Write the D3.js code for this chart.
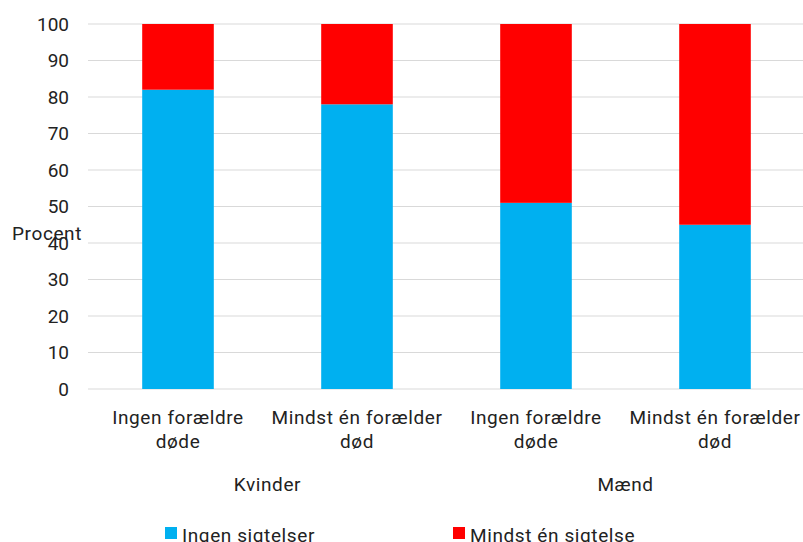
<!DOCTYPE html>
<html>
<head>
<meta charset="utf-8">
<script src="https://cdn.jsdelivr.net/npm/d3@7"></script>
<style>
body { margin: 0; background: #fff; }
text { font-family: Roboto, sans-serif; fill: #222; font-size: 19px; letter-spacing: 0.6px; }
</style>
</head>
<body>
<script>
var groups = ["Kvinder", "Mænd"];
var categories = ["Ingen forældre døde", "Mindst én forælder død"];
var catLines = [["Ingen forældre", "døde"], ["Mindst én forælder", "død"]];
var seriesNames = ["Ingen sigtelser", "Mindst én sigtelse"];
var colors = ["#00b0f0", "#ff0000"];
// Ingen sigtelser share per bar (Kvinder x2, Mænd x2)
var ingen = [82, 78, 51, 45];
var mindst = [18, 22, 49, 55];
var yTicks = [0, 10, 20, 30, 40, 50, 60, 70, 80, 90, 100];

var w = 803, h = 542;
var svg = d3.select("body").append("svg").attr("width", w).attr("height", h);

var bars = [];
groups.forEach(function(g, gi) {
    categories.forEach(function(c, ci) {
        var i = gi * 2 + ci;
        bars.push({ key: g + "|" + c, group: g, lines: catLines[ci], ingen: ingen[i], mindst: mindst[i] });
    });
});

var x = d3.scaleBand().domain(bars.map(function(d){ return d.key; }))
    .range([88.5, 804.5]).paddingInner(0.6).paddingOuter(0.3);
var y = d3.scaleLinear().domain([0, 100]).range([389, 24]);

// gridlines
svg.selectAll("line.grid").data(yTicks).enter().append("line")
    .attr("x1", 88).attr("x2", 803)
    .attr("y1", function(d){ return y(d); }).attr("y2", function(d){ return y(d); })
    .attr("stroke", "#d9d9d9").attr("stroke-width", 1);

// tick labels
svg.selectAll("text.tick").data(yTicks).enter().append("text")
    .attr("x", 69).attr("y", function(d){ return y(d); })
    .attr("dy", "0.35em").attr("text-anchor", "end")
    .style("letter-spacing", "0px").style("font-size", "19px")
    .text(function(d){ return d; });

svg.append("text").attr("x", 12).attr("y", 233).attr("dy", "0.35em")
    .text("Procent");

var stack = d3.stack().keys(["ingen", "mindst"])(bars);
svg.selectAll("g.layer").data(stack).enter().append("g")
    .attr("fill", function(d, i){ return colors[i]; })
    .selectAll("rect").data(function(d){ return d; }).enter().append("rect")
    .attr("x", function(d){ return x(d.data.key); })
    .attr("width", x.bandwidth())
    .attr("y", function(d){ return y(d[1]); })
    .attr("height", function(d){ return y(d[0]) - y(d[1]); });

// category labels
bars.forEach(function(b) {
    var cx = x(b.key) + x.bandwidth() / 2;
    b.lines.forEach(function(l, li) {
        svg.append("text").attr("x", cx).attr("y", 424 + li * 24)
            .attr("text-anchor", "middle").text(l);
    });
});

// group labels
groups.forEach(function(g, gi) {
    var k1 = bars[gi * 2].key, k2 = bars[gi * 2 + 1].key;
    var cx = (x(k1) + x(k2) + x.bandwidth()) / 2;
    svg.append("text").attr("x", cx).attr("y", 491)
        .attr("text-anchor", "middle").text(g);
});

// legend
var legX = [165, 453];
seriesNames.forEach(function(s, i) {
    svg.append("rect").attr("x", legX[i]).attr("y", 527).attr("width", 12).attr("height", 12)
        .attr("fill", colors[i]);
    svg.append("text").attr("x", legX[i] + 17).attr("y", 542)
        .text(s);
});
</script>
</body>
</html>
